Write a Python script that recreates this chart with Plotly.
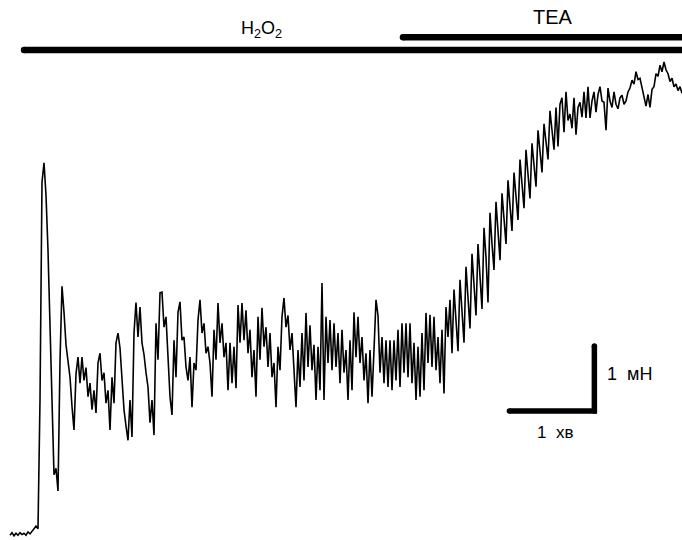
import numpy as np
import plotly.graph_objects as go

# ---- data: isometric force trace (mN), sampled every DT seconds ----
DT = 60 / 42.5  # s per sample
force_mN = [
    -0.08, -0.04, -0.09, -0.05, -0.08, -0.04, -0.07, -0.05, -0.08, -0.03,
    -0.06, -0.01, 0.02, 0.06, 0.02, 2.0, 5.35, 5.65, 5.15, 4.3,
    3.2, 2.1, 0.85, 0.95, 0.6, 2.6, 3.75, 3.35, 2.85, 2.6,
    2.35, 1.9, 1.54, 2.4, 2.66, 2.26, 2.66, 2.3, 2.5, 2.05,
    2.26, 1.85, 2.15, 1.8, 2.57, 2.72, 2.3, 2.42, 1.95, 2.15,
    1.54, 2.35, 1.95, 2.88, 3.03, 2.8, 2.3, 1.85, 1.6, 1.38,
    2.0, 1.43, 3.03, 3.5, 2.97, 3.43, 2.88, 2.7, 2.42, 2.2,
    1.65, 2.0, 1.46, 3.18, 2.62, 3.65, 3.66, 3.12, 3.28, 2.66,
    2.05, 1.77, 2.92, 2.35, 3.35, 3.51, 2.92, 2.97, 2.51, 2.3,
    2.66, 1.89, 2.57, 2.46, 3.23, 3.54, 3.03, 3.18, 2.72, 2.82,
    2.57, 2.05, 3.08, 2.62, 3.49, 2.88, 3.18, 2.66, 2.88, 2.15,
    2.88, 2.26, 2.82, 2.18, 3.46, 2.88, 3.49, 2.92, 3.38, 2.72,
    3.08, 2.35, 2.77, 2.05, 3.28, 2.62, 3.42, 2.82, 3.12, 2.51,
    3.03, 2.35, 2.57, 1.89, 2.82, 2.46, 3.28, 3.57, 3.12, 3.3,
    2.77, 3.03, 2.46, 1.89, 2.77, 2.2, 3.03, 2.3, 3.34, 2.51,
    3.15, 2.46, 2.85, 2.0, 2.82, 2.15, 3.8, 2.0, 3.28, 2.57,
    3.23, 2.46, 3.18, 2.51, 3.03, 2.26, 3.08, 2.42, 2.77, 2.0,
    2.92, 2.15, 3.35, 2.66, 3.28, 2.57, 2.97, 2.3, 2.72, 1.95,
    2.77, 2.05, 2.77, 3.54, 3.3, 2.42, 2.97, 2.26, 2.92, 2.2,
    2.92, 2.15, 2.92, 2.3, 3.08, 2.2, 3.18, 2.42, 3.18, 2.35,
    3.18, 2.26, 2.88, 2.0, 2.82, 2.05, 3.03, 2.15, 3.34, 2.57,
    3.31, 2.51, 3.28, 2.46, 2.97, 2.26, 3.08, 2.1, 3.43, 2.97,
    3.54, 2.72, 3.7, 3.3, 2.75, 3.85, 3.4, 2.88, 4.05, 3.6,
    3.1, 4.25, 3.7, 3.3, 4.4, 3.9, 3.4, 4.65, 4.2, 3.5,
    4.88, 4.4, 4.0, 5.05, 4.6, 4.15, 5.18, 4.8, 4.4, 5.38,
    5.0, 4.6, 5.5, 5.1, 4.77, 5.7, 5.3, 4.95, 5.85, 5.5,
    5.1, 5.95, 5.6, 5.28, 6.15, 5.8, 5.5, 6.25, 5.95, 5.7,
    6.45, 6.1, 5.85, 6.5, 5.9, 6.55, 6.65, 6.12, 6.74, 6.3,
    6.4, 6.18, 6.65, 6.08, 6.5, 6.58, 6.35, 6.74, 6.34, 6.82,
    6.34, 6.6, 6.74, 6.43, 6.7, 6.82, 6.6, 6.58, 6.15, 6.8,
    6.6, 6.5, 6.74, 6.55, 6.48, 6.65, 6.69, 6.55, 6.6, 6.74,
    6.8, 6.92, 6.86, 7.05, 6.93, 6.95, 6.8, 6.62, 6.52, 6.7,
    6.5, 6.78, 6.82, 7.02, 6.98, 7.15, 7.05, 7.2, 7.08, 7.02,
    6.9, 6.95, 6.82, 6.86, 6.76, 6.82, 6.72,
]
time_s = np.arange(len(force_mN)) * DT

# ---- treatment bars (start times, s) and labels ----
treatments = ["H<sub>2</sub>O<sub>2</sub>", "TEA"]
treat_start_s = [9.9, 277.4]
treat_end_s = 480.0

# ---- scale bar values ----
scale_time_s = 60      # 1 хв
scale_force_mN = 1     # 1 мН
scale_labels = ["1&nbsp;&nbsp;хв", "1&nbsp;&nbsp;мН"]

# ---- layout constants ----
X_RANGE = [-10 * DT / 2, 672 * DT / 2]
Y_RANGE = [-10 / 65, 530 / 65]
bar_levels = [7.385, 7.58]
label_pos = [(177.5, 7.7), (383.0, 7.9)]
label_sizes = [18, 20]
SB_T0, SB_F0 = 352.5, 1.83
FONT = "Liberation Sans, Arial, sans-serif"

fig = go.Figure()
fig.add_trace(go.Scatter(x=time_s, y=force_mN, mode="lines",
                         line=dict(color="black", width=1.6),
                         hoverinfo="skip", showlegend=False))

for start, lvl in zip(treat_start_s, bar_levels):
    fig.add_trace(go.Scatter(x=[start, treat_end_s], y=[lvl, lvl], mode="lines",
                             line=dict(color="black", width=6.5),
                             showlegend=False, hoverinfo="skip"))
    fig.add_trace(go.Scatter(x=[start], y=[lvl], mode="markers",
                             marker=dict(color="black", size=6.5),
                             showlegend=False, hoverinfo="skip"))

for txt, (tx, fy), fs in zip(treatments, label_pos, label_sizes):
    fig.add_annotation(x=tx, y=fy, text=txt, showarrow=False,
                       font=dict(family=FONT, size=fs, color="black"))

# scale bar (L-shape)
sb_x = [SB_T0, SB_T0 + scale_time_s, SB_T0 + scale_time_s]
sb_y = [SB_F0, SB_F0, SB_F0 + scale_force_mN]
fig.add_trace(go.Scatter(x=sb_x, y=sb_y, mode="lines+markers",
                         line=dict(color="black", width=5.5),
                         marker=dict(color="black", size=5.5),
                         showlegend=False, hoverinfo="skip"))
fig.add_annotation(x=SB_T0 + scale_time_s / 2 + 2.5, y=SB_F0 - 0.33, text=scale_labels[0],
                   showarrow=False, font=dict(family=FONT, size=17, color="black"))
fig.add_annotation(x=SB_T0 + scale_time_s + 7.5, y=SB_F0 + scale_force_mN * 0.57,
                   text=scale_labels[1], showarrow=False, xanchor="left",
                   font=dict(family=FONT, size=18, color="black"))

fig.update_layout(width=682, height=540, margin=dict(l=0, r=0, t=0, b=0),
                  paper_bgcolor="white", plot_bgcolor="white")
fig.update_xaxes(range=X_RANGE, visible=False)
fig.update_yaxes(range=Y_RANGE, visible=False)
fig.write_html("out.html")
